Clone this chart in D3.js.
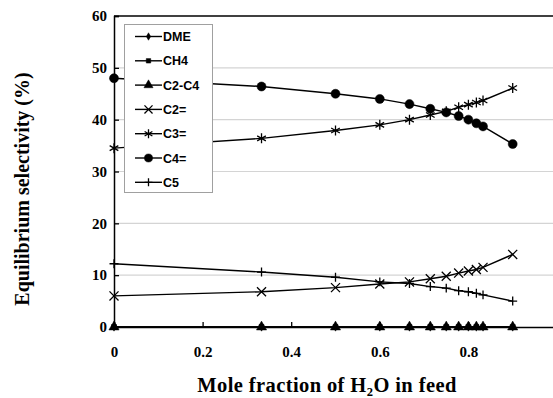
<!DOCTYPE html>
<html>
<head>
<meta charset="utf-8">
<script src="https://cdn.jsdelivr.net/npm/d3@7"></script>
<style>
  body { margin: 0; background: #fff; }
  svg { display: block; }
</style>
</head>
<body>
<div id="chart"></div>
<script>
const W = 553, H = 398;

// mole fraction of water in feed
const xValues = [0, 0.333, 0.5, 0.6, 0.667, 0.714, 0.75, 0.778, 0.8, 0.818, 0.833, 0.9];
const dme   = [0, 0, 0, 0, 0, 0, 0, 0, 0, 0, 0, 0];
const ch4   = [0, 0, 0, 0, 0, 0, 0, 0, 0, 0, 0, 0];
const c2c4  = [0, 0, 0, 0, 0, 0, 0, 0, 0, 0, 0, 0];
const c2ene = [6.0, 6.8, 7.6, 8.3, 8.7, 9.3, 9.8, 10.4, 10.8, 11.1, 11.5, 14.0];
const c3ene = [34.5, 36.4, 37.9, 39.0, 40.0, 40.9, 41.6, 42.4, 42.9, 43.3, 43.7, 46.1];
const c4ene = [48.0, 46.4, 45.0, 44.0, 43.0, 42.1, 41.4, 40.7, 40.0, 39.3, 38.7, 35.3];
const c5    = [12.2, 10.6, 9.6, 8.7, 8.4, 7.8, 7.5, 7.0, 6.8, 6.5, 6.2, 5.0];
const xTicks = [0, 0.2, 0.4, 0.6, 0.8, 1];
const yTicks = [0, 10, 20, 30, 40, 50, 60];

// fallbacks in case the d3 build has no stroke symbols
const timesFallback = { draw(ctx, size) { const r = Math.sqrt(size) * 0.6; ctx.moveTo(-r, -r); ctx.lineTo(r, r); ctx.moveTo(-r, r); ctx.lineTo(r, -r); } };
const plusFallback = { draw(ctx, size) { const r = Math.sqrt(size) * 0.8; ctx.moveTo(-r, 0); ctx.lineTo(r, 0); ctx.moveTo(0, -r); ctx.lineTo(0, r); } };
const asteriskFallback = { draw(ctx, size) { const r = Math.sqrt(size) * 0.6; ctx.moveTo(0, -r); ctx.lineTo(0, r); ctx.moveTo(-r * 0.87, -r / 2); ctx.lineTo(r * 0.87, r / 2); ctx.moveTo(-r * 0.87, r / 2); ctx.lineTo(r * 0.87, -r / 2); } };

const series = [
  { name: 'DME',   values: dme,   type: d3.symbolDiamond, size: 20, fill: true },
  { name: 'CH4',   values: ch4,   type: d3.symbolSquare, size: 25, fill: true },
  { name: 'C2-C4', values: c2c4,  type: d3.symbolTriangle, size: 45, fill: true },
  { name: 'C2=',   values: c2ene, type: d3.symbolTimes || timesFallback, size: 55, fill: false },
  { name: 'C3=',   values: c3ene, type: d3.symbolAsterisk || asteriskFallback, size: 70, fill: false },
  { name: 'C4=',   values: c4ene, type: d3.symbolCircle, size: 64, fill: true },
  { name: 'C5',    values: c5,    type: d3.symbolPlus || plusFallback, size: 28, fill: false }
];

const svg = d3.select('#chart').append('svg')
  .attr('width', W).attr('height', H);

const x = d3.scaleLinear().domain([0, 1]).range([114, 557]);
const y = d3.scaleLinear().domain([0, 60]).range([327, 16]);

// gridlines
svg.append('g').selectAll('line')
  .data(yTicks.filter(t => t > 0 && t < 60))
  .join('line')
  .attr('x1', x(0)).attr('x2', W)
  .attr('y1', d => y(d)).attr('y2', d => y(d))
  .attr('stroke', '#d4d4d4').attr('stroke-width', 1.2);

// top border
svg.append('line')
  .attr('x1', x(0)).attr('x2', W)
  .attr('y1', y(60)).attr('y2', y(60))
  .attr('stroke', '#000').attr('stroke-width', 1.5);

// axes
const xAxis = svg.append('g')
  .attr('transform', `translate(0,${y(0)})`)
  .call(d3.axisBottom(x).tickValues(xTicks).tickSize(-5).tickPadding(19)
    .tickFormat(d => d === 0 || d === 1 ? d3.format('d')(d) : d3.format('.1f')(d)));
const yAxis = svg.append('g')
  .attr('transform', `translate(${x(0)},0)`)
  .call(d3.axisLeft(y).tickValues(yTicks).tickSize(-5).tickPadding(7));

[xAxis, yAxis].forEach(a => {
  a.select('.domain').attr('stroke', '#000').attr('stroke-width', 1.5);
  a.selectAll('.tick line').attr('stroke', '#000').attr('stroke-width', 1.3);
  a.selectAll('.tick text')
    .attr('font-family', '"Liberation Serif", "Times New Roman", serif')
    .attr('font-weight', 'bold').attr('font-size', 15).attr('fill', '#000');
});

// series lines and markers
const line = d3.line().x((d, i) => x(xValues[i])).y(d => y(d));

series.forEach(s => {
  const g = svg.append('g');
  g.append('path')
    .attr('d', line(s.values))
    .attr('fill', 'none').attr('stroke', '#000').attr('stroke-width', 1.4);
  g.selectAll('path.pt')
    .data(s.values)
    .join('path')
    .attr('class', 'pt')
    .attr('transform', (d, i) => `translate(${x(xValues[i])},${y(d)})`)
    .attr('d', d3.symbol().type(s.type).size(s.size))
    .attr('fill', s.fill ? '#000' : 'none')
    .attr('stroke', '#000')
    .attr('stroke-width', s.fill ? 0.5 : 1.3);
});

// legend
const legend = svg.append('g');
legend.append('rect')
  .attr('x', 124.5).attr('y', 24.5).attr('width', 88).attr('height', 168)
  .attr('fill', '#fff').attr('stroke', '#a0a0a0').attr('stroke-width', 1);

const items = legend.selectAll('g.item')
  .data(series)
  .join('g')
  .attr('class', 'item')
  .attr('transform', (d, i) => `translate(0,${36.5 + i * 24.3})`);
items.append('line')
  .attr('x1', 135).attr('x2', 162)
  .attr('stroke', '#000').attr('stroke-width', 1.4);
items.append('path')
  .attr('transform', 'translate(148.5,0)')
  .attr('d', d => d3.symbol().type(d.type).size(d.size * 0.8)())
  .attr('fill', d => d.fill ? '#000' : 'none')
  .attr('stroke', '#000')
  .attr('stroke-width', d => d.fill ? 0.5 : 1.3);
items.append('text')
  .attr('x', 163).attr('dy', '0.36em')
  .attr('font-family', '"Liberation Sans", Arial, sans-serif')
  .attr('font-size', 12.5).attr('font-weight', 'bold').attr('fill', '#000')
  .text(d => d.name);

// axis titles
svg.append('text')
  .attr('transform', 'translate(29,189) rotate(-90)')
  .attr('text-anchor', 'middle')
  .attr('font-family', '"Liberation Serif", "Times New Roman", serif')
  .attr('font-weight', 'bold').attr('font-size', 20)
  .text('Equilibrium selectivity (%)');

const xt = svg.append('text')
  .attr('x', 327).attr('y', 392)
  .attr('text-anchor', 'middle')
  .attr('letter-spacing', 0.4)
  .attr('font-family', '"Liberation Serif", "Times New Roman", serif')
  .attr('font-weight', 'bold').attr('font-size', 20.5);
xt.append('tspan').text('Mole fraction of H');
xt.append('tspan').attr('font-size', 12.5).attr('dy', 3.5).text('2');
xt.append('tspan').attr('dy', -3.5).text('O in feed');
</script>
</body>
</html>
